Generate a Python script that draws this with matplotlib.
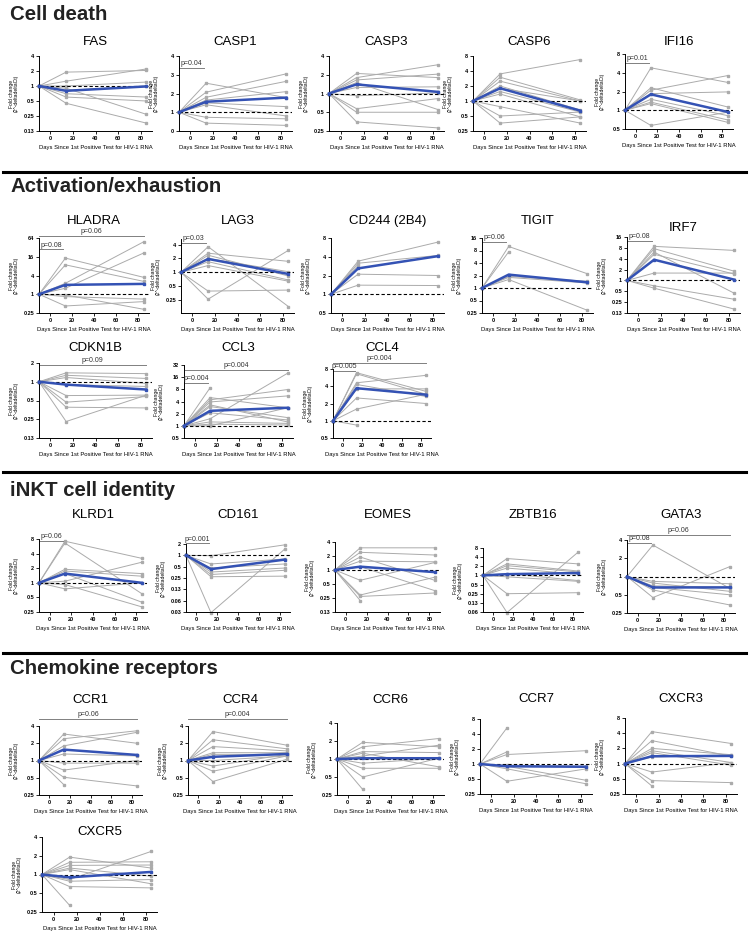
import numpy as np
import matplotlib.pyplot as plt
import matplotlib.transforms as mtransforms
from matplotlib.lines import Line2D
from matplotlib.ticker import NullLocator

plt.rcParams['font.family'] = ['Liberation Sans', 'DejaVu Sans']

nan = np.nan
days = [-10, 14, 85]
x_ticks = [0, 20, 40, 60, 80]
x_label = "Days Since 1st Positive Test for HIV-1 RNA"
y_label = "Fold change\n(2^-deltadeltaCt)"

# individual fold changes at day 14 and day 85 (baseline is always 1), plus the group mean
FAS_d14 = [1.9, 1.25, 1.0, 0.82, 0.7, 0.6, 0.45, 0.9]
FAS_d85 = [2.05, 2.2, 1.2, 1.0, 0.6, 0.5, 0.18, 0.27]
FAS_mean = [0.8, 0.98]

CASP1_d14 = [2.55, 2.07, 1.8, 1.65, 1.5, 1.4, 0.73, 0.42]
CASP1_d85 = [1.78, 3.05, 2.65, 2.1, 1.3, 0.8, 0.65, 0.3]
CASP1_mean = [1.56, 1.78]

CASP3_d14 = [2.1, 1.8, 1.65, 1.5, 1.25, 0.92, 0.57, 0.5, 0.35]
CASP3_d85 = [1.8, 2.9, 2.05, 0.55, 1.28, 1.02, 0.83, 0.5, 0.28]
CASP3_mean = [1.4, 1.06]

CASP6_d14 = [3.5, 3.0, 2.5, 2.0, 1.8, 1.55, 1.38, 0.77, 0.5, 0.36]
CASP6_d85 = [6.8, 1.05, 1.0, 0.66, 1.0, 0.6, 0.48, 0.36, 0.6, 0.48]
CASP6_mean = [1.8, 0.64]

IFI16_d14 = [4.8, 2.3, 2.1, 1.85, 1.5, 1.35, 1.28, 0.57]
IFI16_d85 = [2.8, 1.13, 3.6, 1.97, 0.82, 0.7, 0.64, 0.93]
IFI16_mean = [1.8, 0.94]

HLADRA_d14 = [14.5, 8.8, 2.25, 1.56, 0.84, 0.42, 0.95]
HLADRA_d85 = [3.5, 2.6, 48, 21, 0.7, 0.58, 0.33]
HLADRA_mean = [2.0, 2.15]

LAG3_d14 = [3.6, 2.6, 2.35, 2.0, 1.7, 1.4, 0.39, 0.26]
LAG3_d85 = [0.18, 1.73, 0.83, 1.03, 0.68, 0.64, 0.41, 3.0]
LAG3_mean = [1.95, 0.92]

CD244_d14 = [3.4, 3.15, 2.9, 2.1, 1.4]
CD244_d85 = [6.9, 4.2, nan, 2.0, 1.38]
CD244_mean = [2.6, 4.1]

TIGIT_d14 = [10, 7.4, 1.9, 1.8, 1.6]
TIGIT_d85 = [2.2, nan, 1.45, 1.32, 0.29]
TIGIT_mean = [2.1, 1.37]

IRF7_d14 = [8.8, 7.6, 6.1, 5.3, 1.6, 0.71, 0.61]
IRF7_d85 = [6.8, 1.8, 0.44, 1.5, 1.6, 0.3, 0.16]
IRF7_mean = [3.75, 1.05]

CDKN1B_d14 = [1.39, 1.27, 1.17, 0.9, 0.6, 0.47, 0.39, 0.23]
CDKN1B_d85 = [1.35, 1.13, 0.94, 0.84, 0.61, 0.58, 0.38, 0.61]
CDKN1B_mean = [0.9, 0.75]

CCL3_d14 = [8.8, 5.0, 4.4, 3.9, 3.3, 3.0, 2.1, 1.5, 1.25, 1.1, 1.0]
CCL3_d85 = [nan, 2.8, 7.9, 5.5, 1.25, 1.6, 1.4, 20, 1.15, 1.05, 2.8]
CCL3_mean = [2.35, 2.8]

CCL4_d14 = [6.9, 6.6, 4.6, 4.3, 3.6, 2.5, 1.6, 0.84]
CCL4_d85 = [3.25, 2.9, 6.2, 2.65, 3.6, 2.0, 2.9, nan]
CCL4_mean = [3.7, 2.85]

KLRD1_d14 = [7.2, 6.6, 1.9, 1.75, 1.55, 1.08, 0.92, 0.75]
KLRD1_d85 = [3.2, 0.6, 1.55, 1.37, 0.4, 2.65, 0.32, 1.0]
KLRD1_mean = [1.55, 1.0]

CD161_d14 = [0.98, 0.59, 0.46, 0.36, 0.31, 0.27, 0.03]
CD161_d85 = [1.9, 0.8, 0.59, 0.46, 0.4, 0.28, 1.47]
CD161_mean = [0.43, 0.77]

EOMES_d14 = [3.0, 2.4, 1.9, 1.55, 1.18, 0.6, 0.29, 0.27, 0.22]
EOMES_d85 = [3.0, 2.1, 0.6, 1.5, 0.36, 1.45, 0.7, 0.32, nan]
EOMES_mean = [1.18, 0.9]

ZBTB16_d14 = [3.6, 2.4, 2.1, 1.75, 1.15, 0.9, 0.25, 0.06]
ZBTB16_d85 = [2.4, 1.4, 1.3, 1.1, 0.68, 0.64, 0.27, 5.8]
ZBTB16_mean = [1.1, 1.2]

GATA3_d14 = [3.3, 0.83, 0.78, 0.7, 0.66, 0.6, 0.45]
GATA3_d85 = [0.64, 0.76, 0.57, 0.67, 0.5, 0.34, 1.45]
GATA3_mean = [0.66, 0.66]

CCR1_d14 = [2.9, 2.4, 1.8, 1.55, 1.3, 0.9, 0.68, 0.51, 0.38]
CCR1_d85 = [2.0, 3.3, 3.1, 1.25, 1.2, 0.9, 1.0, 0.36, nan]
CCR1_mean = [1.55, 1.25]

CCR4_d14 = [3.2, 2.3, 1.75, 1.37, 1.28, 1.0, 0.8, 0.65, 0.43]
CCR4_d85 = [1.85, 1.6, 1.47, 1.37, 1.28, 1.2, 1.28, 1.2, 1.05]
CCR4_mean = [1.16, 1.3]

CCR6_d14 = [1.9, 1.6, 1.33, 1.25, 1.12, 0.85, 0.7, 0.5, 0.31]
CCR6_d85 = [1.6, 2.2, 1.28, 0.74, 1.7, 1.03, 0.7, 1.03, nan]
CCR6_mean = [1.03, 1.03]

CCR7_d14 = [5.3, 1.75, 1.55, 0.9, 0.8, 0.45, 0.95]
CCR7_d85 = [nan, nan, 1.85, 0.47, 0.4, 0.8, 0.9]
CCR7_mean = [0.9, 0.88]

CXCR3_d14 = [4.3, 2.85, 2.0, 1.8, 1.65, 1.35, 0.68, 0.46, 0.36]
CXCR3_d85 = [2.5, 1.4, 1.5, 1.05, 0.93, 1.5, 1.05, 0.42, nan]
CXCR3_mean = [1.4, 1.42]

CXCR5_d14 = [1.9, 1.57, 1.4, 1.27, 1.2, 0.83, 0.78, 0.64, 0.32]
CXCR5_d85 = [1.27, 1.6, 1.42, 0.94, 0.71, 2.35, 0.83, 0.61, nan]
CXCR5_mean = [0.9, 1.1]

sections = [("Cell death", 15), ("Activation/exhaustion", 187),
            ("iNKT cell identity", 490), ("Chemokine receptors", 669)]
separators = [172, 472, 653]

# name, data, y tick exponents (None = linear), ylim, box px (l, r, t, b), title y px, brackets
SHORT = (-10, 12)
LONG = (-10, 85)
panels = [
    ("FAS", FAS_d14, FAS_d85, FAS_mean, range(-3, 3), (0.125, 4), (39, 152, 56, 131), 42, []),
    ("CASP1", CASP1_d14, CASP1_d85, CASP1_mean, None, (0, 4), (179, 292, 56, 131), 42,
     [(SHORT, 0.84, "p=0.04")]),
    ("CASP3", CASP3_d14, CASP3_d85, CASP3_mean, range(-2, 3), (0.25, 4), (329, 444, 56, 131), 42, []),
    ("CASP6", CASP6_d14, CASP6_d85, CASP6_mean, range(-2, 4), (0.25, 8), (473, 586, 56, 131), 42, []),
    ("IFI16", IFI16_d14, IFI16_d85, IFI16_mean, range(-1, 4), (0.5, 8), (625, 733, 54, 129), 42,
     [(SHORT, 0.88, "p=0.01")]),
    ("HLADRA", HLADRA_d14, HLADRA_d85, HLADRA_mean, range(-2, 7, 2), (0.25, 64), (39, 149, 238, 313), 221,
     [(SHORT, 0.85, "p=0.08"), (LONG, 1.03, "p=0.06")]),
    ("LAG3", LAG3_d14, LAG3_d85, LAG3_mean, range(-2, 3), (0.13, 5.3), (181, 294, 239, 313), 221,
     [(SHORT, 0.95, "p=0.03")]),
    ("CD244 (2B4)", CD244_d14, CD244_d85, CD244_mean, range(-1, 4), (0.5, 8), (331, 444, 238, 313), 221, []),
    ("TIGIT", TIGIT_d14, TIGIT_d85, TIGIT_mean, range(-2, 5), (0.25, 16), (482, 593, 238, 313), 221,
     [(SHORT, 0.95, "p=0.06")]),
    ("IRF7", IRF7_d14, IRF7_d85, IRF7_mean, range(-3, 5), (0.125, 16), (627, 740, 237, 313), 228,
     [(SHORT, 0.95, "p=0.08")]),
    ("CDKN1B", CDKN1B_d14, CDKN1B_d85, CDKN1B_mean, range(-3, 2), (0.125, 2), (39, 152, 363, 438), 348,
     [(LONG, 0.97, "p=0.09")]),
    ("CCL3", CCL3_d14, CCL3_d85, CCL3_mean, range(-1, 6), (0.5, 32), (184, 293, 365, 438), 348,
     [(SHORT, 0.76, "p=0.004"), (LONG, 0.93, "p=0.004")]),
    ("CCL4", CCL4_d14, CCL4_d85, CCL4_mean, range(-1, 4), (0.5, 8), (333, 431, 369, 438), 348,
     [(SHORT, 0.97, "p=0.005"), (LONG, 1.09, "p=0.004")]),
    ("KLRD1", KLRD1_d14, KLRD1_d85, KLRD1_mean, range(-2, 4), (0.25, 8), (39, 147, 539, 612), 515,
     [(SHORT, 0.97, "p=0.06")]),
    ("CD161", CD161_d14, CD161_d85, CD161_mean, range(-5, 2), (0.03125, 2), (186, 290, 544, 612), 515,
     [(SHORT, 1.01, "p=0.001")]),
    ("EOMES", EOMES_d14, EOMES_d85, EOMES_mean, range(-3, 3), (0.125, 4), (335, 440, 542, 612), 515, []),
    ("ZBTB16", ZBTB16_d14, ZBTB16_d85, ZBTB16_mean, range(-4, 4), (0.0625, 8), (483, 583, 548, 612), 515, []),
    ("GATA3", GATA3_d14, GATA3_d85, GATA3_mean, range(-2, 3), (0.25, 4), (627, 735, 540, 613), 515,
     [(SHORT, 0.96, "p=0.08"), (LONG, 1.07, "p=0.06")]),
    ("CCR1", CCR1_d14, CCR1_d85, CCR1_mean, range(-2, 3), (0.25, 4), (39, 142, 726, 795), 700,
     [(LONG, 1.10, "p=0.06")]),
    ("CCR4", CCR4_d14, CCR4_d85, CCR4_mean, range(-2, 3), (0.25, 4), (188, 292, 726, 795), 700,
     [(LONG, 1.10, "p=0.004")]),
    ("CCR6", CCR6_d14, CCR6_d85, CCR6_mean, range(-2, 3), (0.25, 4), (337, 444, 723, 795), 700, []),
    ("CCR7", CCR7_d14, CCR7_d85, CCR7_mean, range(-2, 4), (0.25, 8), (480, 592, 719, 794), 699, []),
    ("CXCR3", CXCR3_d14, CXCR3_d85, CXCR3_mean, range(-2, 4), (0.25, 8), (625, 737, 718, 794), 699, []),
    ("CXCR5", CXCR5_d14, CXCR5_d85, CXCR5_mean, range(-2, 3), (0.25, 4), (42, 157, 837, 912), 832, []),
]

tick_names = {-5: "0.03", -4: "0.06", -3: "0.13", -2: "0.25", -1: "0.5"}

W, H = 749, 933
fig = plt.figure(figsize=(W / 100, H / 100), dpi=100)

GRAY = "#ababab"
BLUE = "#3452b4"

for name, d14, d85, mean, exps, ylim, (l, r, t, b), ty, brackets in panels:
    ax = fig.add_axes([l / W, 1 - b / H, (r - l) / W, (b - t) / H])
    for v14, v85 in zip(d14, d85):
        ax.plot(days, [1, v14, v85], color=GRAY, lw=0.7, marker="s", ms=1.8,
                mec=GRAY, mfc=GRAY, clip_on=False, zorder=2)
    ax.axhline(1, color="black", lw=0.8, ls=(0, (3, 2)), zorder=3)
    ax.plot(days, [1] + list(mean), color=BLUE, lw=1.8, marker="s", ms=2,
            clip_on=False, zorder=4)

    ax.set_xlim(-10, 90)
    ax.set_xticks(x_ticks)
    if exps is None:
        ax.set_ylim(*ylim)
        ax.set_yticks(range(0, 5))
    else:
        ax.set_yscale("log", base=2)
        ax.set_ylim(*ylim)
        ax.set_yticks([2.0 ** e for e in exps])
        ax.set_yticklabels([tick_names.get(e, str(int(2 ** e))) for e in exps])
        ax.yaxis.set_minor_locator(NullLocator())

    for s in ("top", "right"):
        ax.spines[s].set_visible(False)
    for s in ("left", "bottom"):
        ax.spines[s].set_linewidth(0.7)
    ax.tick_params(length=2, width=0.6, pad=1.5, labelsize=4)
    for lab in ax.get_xticklabels() + ax.get_yticklabels():
        lab.set_fontweight("bold")

    ax.set_xlabel(x_label, fontsize=4.2, labelpad=3)
    ax.set_ylabel(y_label, fontsize=3.6, linespacing=1.0)
    ax.yaxis.set_label_coords(-20 / (r - l), 0.5)

    trans = mtransforms.blended_transform_factory(ax.transData, ax.transAxes)
    for (x0, x1), yf, txt in brackets:
        ax.plot([x0, x1], [yf, yf], transform=trans, color="#808080", lw=0.7, clip_on=False)
        ax.text((x0 + x1) / 2, yf + 0.01, txt, transform=trans, ha="center", va="bottom",
                fontsize=5, color="#333333")

    fig.text((l + r) / 2 / W, 1 - ty / H, name, ha="center", va="center", fontsize=9.5)

for title, y in sections:
    fig.text(10 / W, 1 - y / H, title, ha="left", va="center", fontsize=14.7, fontweight="bold",
             color="#222222")

for y in separators:
    fig.add_artist(Line2D([3 / W, 746 / W], [1 - y / H, 1 - y / H], color="black", lw=2.2))

fig.savefig("out.png", dpi=100)
